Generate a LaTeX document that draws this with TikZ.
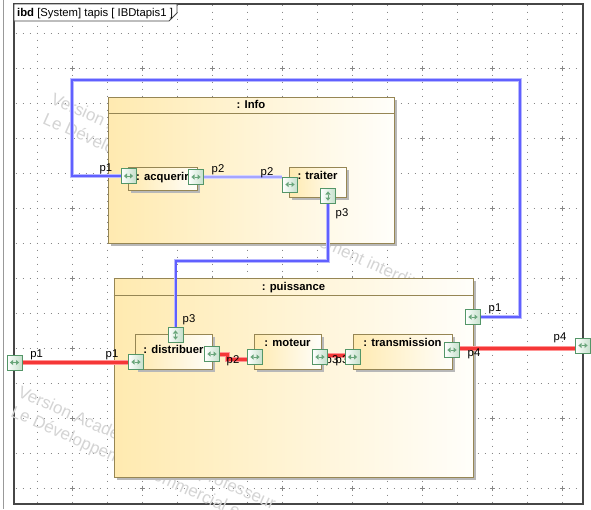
\documentclass[tikz,border=0pt]{standalone}
\usepackage{fontspec}
\setmainfont{Liberation Sans}
\usetikzlibrary{calc,shadows}
\definecolor{bordc}{RGB}{150,134,84}
\definecolor{ylw}{RGB}{255,234,176}
\definecolor{ylw2}{RGB}{255,254,250}
\definecolor{portb}{RGB}{84,150,104}
\definecolor{portf}{RGB}{196,224,203}
\definecolor{arrc}{RGB}{105,165,122}
\definecolor{bluec}{RGB}{96,96,255}
\definecolor{bluehalo}{RGB}{185,185,255}
\definecolor{bluelt}{RGB}{165,165,255}
\definecolor{redc}{RGB}{245,55,55}
\definecolor{redlt}{RGB}{255,150,150}
\definecolor{gridc}{RGB}{135,135,135}
\definecolor{wmc}{RGB}{212,212,212}
\definecolor{framec}{RGB}{70,70,70}
\pgfdeclarelayer{bg}
\pgfdeclarelayer{blocks}
\pgfdeclarelayer{wires}
\pgfdeclarelayer{lbls}
\pgfsetlayers{bg,blocks,wires,lbls,main}
\tikzset{
  blockbox/.style={rectangle, inner sep=0pt, draw=bordc, line width=1pt,
    left color=ylw, right color=ylw2,
    drop shadow={opacity=1, fill=black!28, shadow xshift=3pt, shadow yshift=-3pt}},
  btitle/.style={anchor=base, inner sep=0pt, font=\fontsize{11.3}{13}\selectfont\bfseries},
  plabel/.style={anchor=base, inner sep=0pt, font=\fontsize{11.3}{13}\selectfont},
  wmark/.style={anchor=base west, inner sep=0pt, rotate=-24, text=wmc, font=\fontsize{17}{20}\selectfont},
  portbase/.style={rectangle, minimum size=15pt, inner sep=0pt, draw=portb, line width=1pt,
    left color=white, right color=portf},
  hport/.style={portbase, path picture={
    \coordinate (pc) at (path picture bounding box.center);
    \fill[arrc] ([shift={(-1.5pt,-2.6pt)}]pc) -- ([shift={(-4.6pt,0pt)}]pc) -- ([shift={(-1.5pt,2.6pt)}]pc) -- cycle;
    \fill[arrc] ([shift={(1.5pt,-2.6pt)}]pc) -- ([shift={(4.6pt,0pt)}]pc) -- ([shift={(1.5pt,2.6pt)}]pc) -- cycle;
    \draw[arrc, line width=.8pt] ([shift={(-1.5pt,0pt)}]pc) -- ([shift={(1.5pt,0pt)}]pc);}},
  vport/.style={portbase, path picture={
    \coordinate (pc) at (path picture bounding box.center);
    \fill[arrc] ([shift={(-2.6pt,-1.5pt)}]pc) -- ([shift={(0pt,-4.6pt)}]pc) -- ([shift={(2.6pt,-1.5pt)}]pc) -- cycle;
    \fill[arrc] ([shift={(-2.6pt,1.5pt)}]pc) -- ([shift={(0pt,4.6pt)}]pc) -- ([shift={(2.6pt,1.5pt)}]pc) -- cycle;
    \draw[arrc, line width=.8pt] ([shift={(0pt,-1.5pt)}]pc) -- ([shift={(0pt,1.5pt)}]pc);}},
  bwire/.style={draw=bluec, line width=2pt, preaction={draw=bluehalo, line width=3.6pt}},
  lwire/.style={draw=bluelt, line width=2.2pt, preaction={draw=bluehalo!60, line width=3.4pt}},
  rwire/.style={draw=redc, line width=3pt, preaction={draw=redlt, line width=5pt}},
  griddots/.style={draw=gridc, line width=1pt, dash pattern=on 1pt off 6pt},
}
\begin{document}
\begin{tikzpicture}[x=1pt, y=-1pt]
\useasboundingbox (0,0) rectangle (591,509);
\begin{pgfonlayer}{bg}
  \fill[white] (0,0) rectangle (591,509);
  \draw[black!40, line width=1pt] (3,0) -- (3,509);
  \foreach \gy in {33,68,...,488} \draw[griddots] (15.5,\gy) -- (582,\gy);
  \foreach \gx in {37,72,...,562} \draw[griddots] (\gx,4.5) -- (\gx,503);
  \foreach \gx in {72,142,...,562} \foreach \gy in {68,138,...,488}
    \draw[gridc, line width=.8pt] (\gx-2.5,\gy) -- (\gx+2.5,\gy) (\gx,\gy-2.5) -- (\gx,\gy+2.5);
  \draw[framec, line width=1.2pt] (14,4) rectangle (583,504);
  \filldraw[fill=white, draw=framec, line width=.8pt] (14,4) -- (177,4) -- (177,13) -- (169,21) -- (14,21) -- cycle;
  \node[anchor=base west, inner sep=0pt, font=\fontsize{11.3}{13}\selectfont] (hdr) at (17,16) {\textbf{ibd} [System] tapis [ IBDtapis1 ]};
  \node[wmark] (wm1) at (49.8,103) {Version Académique pour professeur};
  \node[wmark] (wm2) at (41.8,123.1) {Le Développement commercial est strictement interdit};
  \node[wmark] (wm3) at (16.8,396) {Version Académique pour professeur};
  \node[wmark] (wm4) at (9.8,416) {Le Développement commercial est strictement interdit};
\end{pgfonlayer}
\begin{pgfonlayer}{blocks}
  \node[blockbox, minimum width=286pt, minimum height=146pt] (info) at (251,170) {};
  \draw[bordc, line width=1pt] ($(info.north west)+(0,17.3)$) -- ($(info.north east)+(0,17.3)$);
  \node[btitle] (infoT) at (251,108.5) {: Info};
  \node[blockbox, minimum width=359pt, minimum height=199pt] (pui) at (293.5,377.5) {};
  \draw[bordc, line width=1pt] ($(pui.north west)+(0,18)$) -- ($(pui.north east)+(0,18)$);
  \node[btitle] (puiT) at (293.5,290.5) {: puissance};
  \node[blockbox, minimum width=69pt, minimum height=23pt] (acq) at (162.5,178.5) {};
  \node[btitle] (acqT) at (162.5,180) {: acquerir};
  \node[blockbox, minimum width=57pt, minimum height=30pt] (tra) at (317.5,182) {};
  \node[btitle] (traT) at (317.5,179.5) {: traiter};
  \node[blockbox, minimum width=77pt, minimum height=35pt] (dis) at (173.5,351.5) {};
  \node[btitle] (disT) at (173.5,353.5) {: distribuer};
  \node[blockbox, minimum width=67pt, minimum height=35pt] (mot) at (287.5,351.5) {};
  \node[btitle] (motT) at (287.5,346.5) {: moteur};
  \node[blockbox, minimum width=99pt, minimum height=35pt] (trs) at (402.5,351.5) {};
  \node[btitle] (trsT) at (402.5,346.5) {: transmission};
\end{pgfonlayer}
% ports
\node[hport] (acqP1) at (128.5,176) {};
\node[hport] (acqP2) at (196,177) {};
\node[hport] (traP2) at (290,184.5) {};
\node[vport] (traP3) at (328,196) {};
\node[hport] (puiP1) at (473,317) {};
\node[vport] (disP3) at (175.5,335) {};
\node[hport] (disP1) at (136,362) {};
\node[hport] (disP2) at (212,354) {};
\node[hport] (motP2) at (255,357) {};
\node[hport] (motP3) at (320,357) {};
\node[hport] (trsP3) at (352.5,357) {};
\node[hport] (trsP4) at (452,350) {};
\node[hport] (extP1) at (14.5,362.5) {};
\node[hport] (extP4) at (583,345.5) {};
\coordinate (bA) at (72,80);
\coordinate (bB) at (520,317);
\coordinate (bC) at (175.5,261);
\begin{pgfonlayer}{wires}
  \draw[bwire] (acqP1.west) -| (bA) -| (bB) -- (puiP1.east);
  \draw[lwire] (acqP2.east) -- (acqP2.east -| traP2.west);
  \draw[bwire] (traP3.south) |- (bC) -- (disP3.north);
  \draw[rwire] (extP1.east) -- (extP1.east -| disP1.west);
  \draw[rwire] (disP2.east) -- ++(7,0) |- ([yshift=-2pt]motP2.west);
  \draw[rwire] ([yshift=2pt]motP3.east) -- ([yshift=2pt]trsP3.west);
  \draw[rwire] ([yshift=1.5pt]trsP4.east) -- ([yshift=1.5pt]trsP4.east -| extP4.west);
\end{pgfonlayer}
\begin{pgfonlayer}{lbls}
  \node[plabel] (l1) at (106,171) {p1};
  \node[plabel] (l2) at (218,172) {p2};
  \node[plabel] (l3) at (267,175) {p2};
  \node[plabel] (l4) at (342,216.5) {p3};
  \node[plabel] (l5) at (495,311.5) {p1};
  \node[plabel] (l6) at (189,322) {p3};
  \node[plabel] (l7) at (36.7,357.5) {p1};
  \node[plabel] (l8) at (112,357) {p1};
  \node[plabel] (l9) at (233,363.5) {p2};
  \node[plabel] (l10) at (332,363.5) {p3};
  \node[plabel] (l11) at (342,363.5) {p3};
  \node[plabel] (l12) at (474,356.5) {p4};
  \node[plabel] (l13) at (560,340) {p4};
\end{pgfonlayer}
\end{tikzpicture}
\end{document}
